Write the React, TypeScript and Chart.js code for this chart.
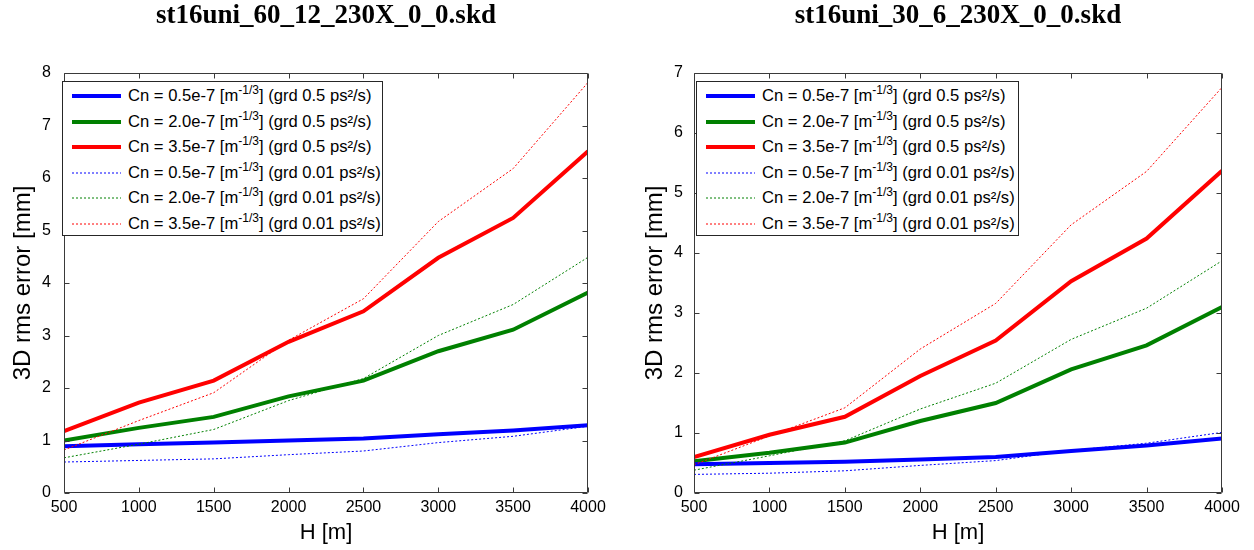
import React, { useEffect, useRef } from "react";
import { Chart, registerables } from "chart.js";

Chart.register(...registerables);

// ---------- data ----------
const H_VALUES = [500, 1000, 1500, 2000, 2500, 3000, 3500, 4000];
const X_TICKS = [500, 1000, 1500, 2000, 2500, 3000, 3500, 4000];
const Y_TICKS_LEFT = [0, 1, 2, 3, 4, 5, 6, 7, 8];
const Y_TICKS_RIGHT = [0, 1, 2, 3, 4, 5, 6, 7];

const TITLE_LEFT = "st16uni_60_12_230X_0_0.skd";
const TITLE_RIGHT = "st16uni_30_6_230X_0_0.skd";
const X_LABEL = "H [m]";
const Y_LABEL = "3D rms error [mm]";

const CN_VALUES = ["0.5e-7", "2.0e-7", "3.5e-7", "0.5e-7", "2.0e-7", "3.5e-7"];
const GRD_VALUES = ["0.5", "0.5", "0.5", "0.01", "0.01", "0.01"];

// left panel: st16uni_60_12
const L_CN05_GRD05 = [0.89, 0.93, 0.96, 1.0, 1.04, 1.12, 1.19, 1.29];
const L_CN20_GRD05 = [1.0, 1.24, 1.45, 1.84, 2.14, 2.7, 3.11, 3.82];
const L_CN35_GRD05 = [1.18, 1.72, 2.14, 2.88, 3.46, 4.48, 5.24, 6.51];
const L_CN05_GRD001 = [0.59, 0.62, 0.65, 0.73, 0.8, 0.96, 1.08, 1.27];
const L_CN20_GRD001 = [0.67, 0.93, 1.21, 1.76, 2.18, 3.0, 3.59, 4.49];
const L_CN35_GRD001 = [0.82, 1.38, 1.91, 2.91, 3.7, 5.17, 6.18, 7.82];

// right panel: st16uni_30_6
const R_CN05_GRD05 = [0.48, 0.5, 0.52, 0.56, 0.6, 0.7, 0.79, 0.91];
const R_CN20_GRD05 = [0.53, 0.67, 0.84, 1.2, 1.5, 2.06, 2.46, 3.1];
const R_CN35_GRD05 = [0.6, 0.97, 1.27, 1.95, 2.54, 3.53, 4.24, 5.37];
const R_CN05_GRD001 = [0.31, 0.33, 0.37, 0.46, 0.54, 0.71, 0.83, 1.01];
const R_CN20_GRD001 = [0.38, 0.62, 0.87, 1.4, 1.83, 2.56, 3.08, 3.87];
const R_CN35_GRD001 = [0.47, 0.95, 1.42, 2.4, 3.16, 4.47, 5.36, 6.76];

const COLORS = ["#0000ff", "#008000", "#ff0000", "#0000ff", "#008000", "#ff0000"];
const THICK = [true, true, true, false, false, false];

const SANS = "'Liberation Sans', Arial, Helvetica, sans-serif";
const SERIF = "'Liberation Serif', 'Times New Roman', serif";

// ---------- plugin: MATLAB-style box with inward ticks ----------
const boxTicks = {
  id: "boxTicks",
  afterDraw(chart: any) {
    const { ctx, chartArea, scales } = chart;
    const l = Math.round(chartArea.left) + 0.5;
    const r = Math.round(chartArea.right) - 0.5;
    const t = Math.round(chartArea.top) + 0.5;
    const b = Math.round(chartArea.bottom) - 0.5;
    ctx.save();
    ctx.strokeStyle = "#3a3a3a";
    ctx.lineWidth = 1;
    ctx.beginPath();
    ctx.rect(l, t, r - l, b - t);
    const len = 5;
    scales.x.ticks.forEach((tk: any) => {
      const px = Math.round(scales.x.getPixelForValue(tk.value)) + 0.5;
      ctx.moveTo(px, b);
      ctx.lineTo(px, b - len);
      ctx.moveTo(px, t);
      ctx.lineTo(px, t + len);
    });
    scales.y.ticks.forEach((tk: any) => {
      const py = Math.round(scales.y.getPixelForValue(tk.value)) + 0.5;
      ctx.moveTo(l, py);
      ctx.lineTo(l + len, py);
      ctx.moveTo(r, py);
      ctx.lineTo(r - len, py);
    });
    ctx.stroke();
    ctx.restore();
  },
};

type PanelProps = {
  left: number;
  width: number;
  title: string;
  series: number[][];
  yTicks: number[];
  yAxisWidth: number;
  rightPad: number;
  yTickPad: number;
  yTitlePad: number;
};

function Panel(p: PanelProps) {
  const ref = useRef<HTMLCanvasElement>(null);
  useEffect(() => {
    const chart = new Chart(ref.current as HTMLCanvasElement, {
      type: "line",
      data: {
        datasets: p.series.map((vals, i) => ({
          label: `Cn = ${CN_VALUES[i]} (grd ${GRD_VALUES[i]})`,
          data: H_VALUES.map((h, j) => ({ x: h, y: vals[j] })),
          borderColor: COLORS[i],
          backgroundColor: COLORS[i],
          borderWidth: THICK[i] ? 4 : 1,
          borderDash: THICK[i] ? [] : [2, 2],
          pointRadius: 0,
          tension: 0,
          fill: false,
          order: THICK[i] ? 1 : 0,
        })),
      },
      options: {
        responsive: false,
        animation: false,
        events: [],
        layout: { padding: { left: 0, right: p.rightPad, top: 0, bottom: 0 } },
        plugins: {
          legend: { display: false },
          tooltip: { enabled: false },
          title: {
            display: true,
            text: p.title,
            fullSize: false,
            color: "#000",
            font: { family: SERIF, size: 27, weight: "bold" },
            padding: { top: 0, bottom: 40.6 },
          },
        },
        scales: {
          x: {
            type: "linear",
            min: X_TICKS[0],
            max: X_TICKS[X_TICKS.length - 1],
            afterBuildTicks: (s: any) => {
              s.ticks = X_TICKS.map((v) => ({ value: v }));
            },
            ticks: {
              color: "#000",
              font: { family: SANS, size: 16 },
              padding: 5,
              maxRotation: 0,
              autoSkip: false,
              callback: (v: any) => String(v),
            },
            grid: { display: false, drawTicks: false },
            border: { display: false },
            title: {
              display: true,
              text: X_LABEL,
              color: "#000",
              font: { family: SANS, size: 22 },
              padding: { top: 0, bottom: 4 },
            },
            afterFit: (s: any) => {
              s.height = 57;
            },
          },
          y: {
            type: "linear",
            min: p.yTicks[0],
            max: p.yTicks[p.yTicks.length - 1],
            afterBuildTicks: (s: any) => {
              s.ticks = p.yTicks.map((v) => ({ value: v }));
            },
            ticks: {
              color: "#000",
              font: { family: SANS, size: 16 },
              padding: p.yTickPad,
              autoSkip: false,
              callback: (v: any) => String(v),
            },
            grid: { display: false, drawTicks: false },
            border: { display: false },
            title: {
              display: true,
              text: Y_LABEL,
              color: "#000",
              font: { family: SANS, size: 24 },
              padding: { top: p.yTitlePad, bottom: 0 },
            },
            afterFit: (s: any) => {
              s.width = p.yAxisWidth;
            },
          },
        },
      } as any,
      plugins: [boxTicks],
    });
    return () => chart.destroy();
  }, []);
  return (
    <canvas
      ref={ref}
      width={p.width}
      height={550}
      style={{ position: "absolute", left: p.left, top: 0, width: p.width, height: 550 }}
    />
  );
}

function Legend({ left, top, width, height }: { left: number; top: number; width: number; height: number }) {
  return (
    <div
      style={{
        position: "absolute",
        left,
        top,
        width,
        height,
        boxSizing: "border-box",
        border: "1px solid #262626",
        background: "#fff",
      }}
    >
      {CN_VALUES.map((cn, i) => (
        <div
          key={i}
          style={{
            position: "absolute",
            left: 9,
            top: 14 + i * 25.5 - 10,
            height: 20,
            display: "flex",
            alignItems: "center",
            whiteSpace: "nowrap",
            fontFamily: SANS,
            fontSize: 16.6,
            color: "#000",
          }}
        >
          <svg width={50} height={10} style={{ marginRight: 6, flex: "none" }}>
            <line
              x1={0}
              y1={5}
              x2={49}
              y2={5}
              stroke={COLORS[i]}
              strokeWidth={THICK[i] ? 4 : 1}
              strokeDasharray={THICK[i] ? undefined : "2,2"}
            />
          </svg>
          <span>
            Cn = {cn} [m
            <span style={{ fontSize: 12, position: "relative", top: -7 }}>-1/3</span>] (grd {GRD_VALUES[i]} ps²/s)
          </span>
        </div>
      ))}
    </div>
  );
}

export default function App() {
  return (
    <div
      style={{
        position: "absolute",
        left: 0,
        top: 0,
        width: 1254,
        height: 550,
        overflow: "hidden",
        background: "#fff",
      }}
    >
      <Panel
        left={0}
        width={627}
        title={TITLE_LEFT}
        series={[L_CN05_GRD05, L_CN20_GRD05, L_CN35_GRD05, L_CN05_GRD001, L_CN20_GRD001, L_CN35_GRD001]}
        yTicks={Y_TICKS_LEFT}
        yAxisWidth={64}
        rightPad={39}
        yTickPad={13}
        yTitlePad={9}
      />
      <Panel
        left={627}
        width={627}
        title={TITLE_RIGHT}
        series={[R_CN05_GRD05, R_CN20_GRD05, R_CN35_GRD05, R_CN05_GRD001, R_CN20_GRD001, R_CN35_GRD001]}
        yTicks={Y_TICKS_RIGHT}
        yAxisWidth={67}
        rightPad={32}
        yTickPad={11}
        yTitlePad={14}
      />
      <Legend left={62} top={81} width={321} height={155} />
      <Legend left={696} top={81} width={323} height={155} />
    </div>
  );
}
